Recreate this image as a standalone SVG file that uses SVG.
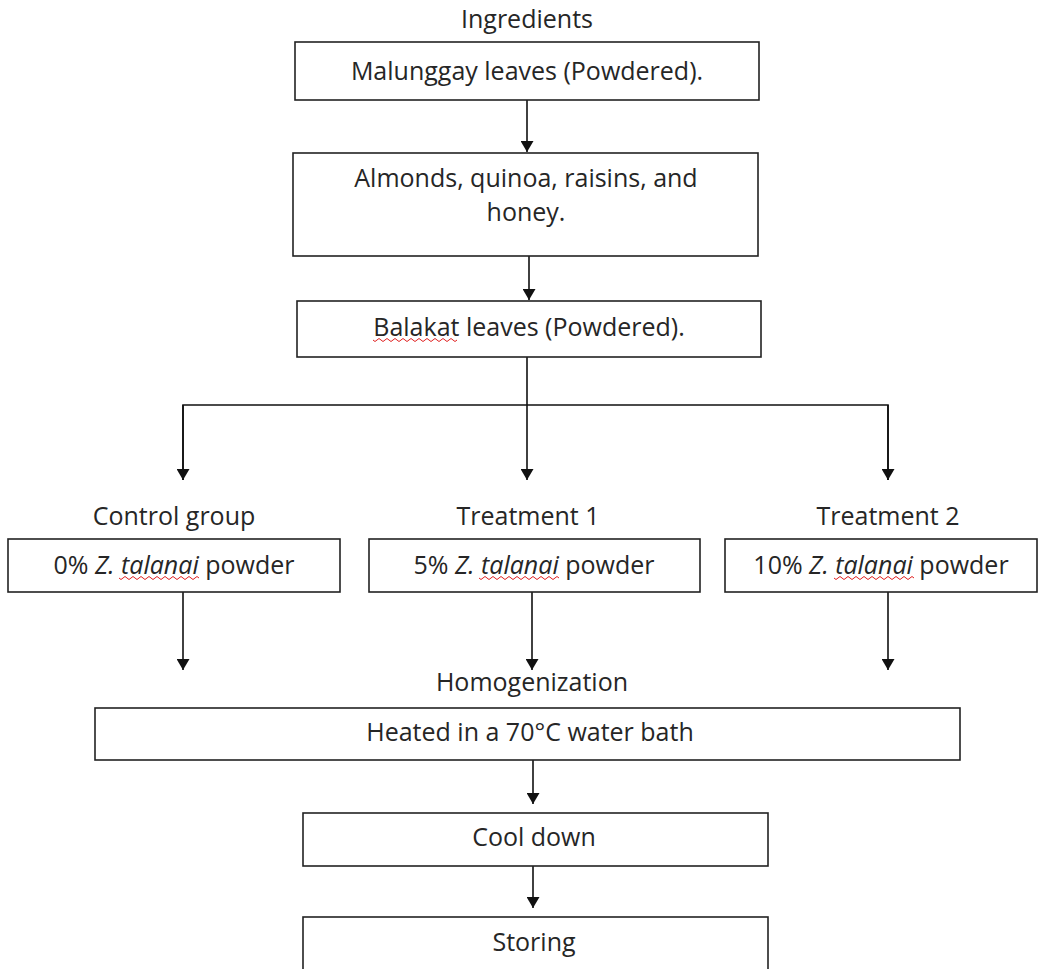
<svg xmlns="http://www.w3.org/2000/svg" width="1043" height="969" viewBox="0 0 1043 969">
<defs>
<style>
.box{fill:#fff;stroke:#222;stroke-width:1.6}
.t{font-family:"Open Sans","Liberation Sans",sans-serif;font-size:25px;fill:#262626;text-anchor:middle}
.ln{fill:none;stroke:#111;stroke-width:1.6}
.sp{fill:none;stroke:#e02020;stroke-width:1}
</style>
<marker id="ah" markerWidth="13" markerHeight="13" refX="11" refY="6.5" orient="auto" markerUnits="userSpaceOnUse">
<path d="M0,0 L11,6.5 L0,13 Z" fill="#111"/>
</marker>
</defs>
<rect width="1043" height="969" fill="#fff"/>
<g id="connectors">
<line class="ln" x1="527" y1="100" x2="527" y2="152" marker-end="url(#ah)"/>
<line class="ln" x1="529" y1="256" x2="529" y2="300" marker-end="url(#ah)"/>
<polyline class="ln" points="527,357 527,405"/>
<polyline class="ln" points="183,480 183,405 888,405 888,480"/>
<line class="ln" x1="183" y1="405" x2="183" y2="480" marker-end="url(#ah)"/>
<line class="ln" x1="527" y1="405" x2="527" y2="480" marker-end="url(#ah)"/>
<line class="ln" x1="888" y1="405" x2="888" y2="480" marker-end="url(#ah)"/>
<line class="ln" x1="183" y1="592" x2="183" y2="670" marker-end="url(#ah)"/>
<line class="ln" x1="532" y1="592" x2="532" y2="670" marker-end="url(#ah)"/>
<line class="ln" x1="888" y1="592" x2="888" y2="670" marker-end="url(#ah)"/>
<line class="ln" x1="533" y1="760" x2="533" y2="804" marker-end="url(#ah)"/>
<line class="ln" x1="533" y1="866" x2="533" y2="908" marker-end="url(#ah)"/>
</g>
<text class="t" x="527" y="28">Ingredients</text>
<g id="malunggay">
<rect class="box" x="295" y="42" width="464" height="58"/>
<text class="t" x="527" y="80">Malunggay leaves (Powdered).</text>
</g>
<g id="almonds">
<rect class="box" x="293" y="153" width="465" height="103"/>
<text class="t" x="526" y="187">Almonds, quinoa, raisins, and</text>
<text class="t" x="526" y="221">honey.</text>
</g>
<g id="balakat">
<rect class="box" x="297" y="301" width="464" height="56"/>
<text class="t" x="529" y="336">Balakat leaves (Powdered).</text>
<path class="sp" d="M373,340 q2,3 4,0 t4,0 t4,0 t4,0 t4,0 t4,0 t4,0 t4,0 t4,0 t4,0 t4,0 t4,0 t4,0 t4,0 t4,0 t4,0 t4,0 t4,0 t4,0 t4,0 t4,0"/>
</g>
<g id="control">
<text class="t" x="174" y="525">Control group</text>
<rect class="box" x="8" y="539" width="332" height="53"/>
<text class="t" x="174" y="574">0% <tspan font-style="italic">Z. talanai</tspan> powder</text>
<path class="sp" d="M119,578 q2,3 4,0 t4,0 t4,0 t4,0 t4,0 t4,0 t4,0 t4,0 t4,0 t4,0 t4,0 t4,0 t4,0 t4,0 t4,0 t4,0 t4,0 t4,0 t4,0 t4,0"/>
</g>
<g id="treatment1">
<text class="t" x="528" y="525">Treatment 1</text>
<rect class="box" x="369" y="539" width="331" height="53"/>
<text class="t" x="534" y="574">5% <tspan font-style="italic">Z. talanai</tspan> powder</text>
<path class="sp" d="M479,578 q2,3 4,0 t4,0 t4,0 t4,0 t4,0 t4,0 t4,0 t4,0 t4,0 t4,0 t4,0 t4,0 t4,0 t4,0 t4,0 t4,0 t4,0 t4,0 t4,0 t4,0"/>
</g>
<g id="treatment2">
<text class="t" x="888" y="525">Treatment 2</text>
<rect class="box" x="725" y="539" width="312" height="53"/>
<text class="t" x="881" y="574">10% <tspan font-style="italic">Z. talanai</tspan> powder</text>
<path class="sp" d="M834,578 q2,3 4,0 t4,0 t4,0 t4,0 t4,0 t4,0 t4,0 t4,0 t4,0 t4,0 t4,0 t4,0 t4,0 t4,0 t4,0 t4,0 t4,0 t4,0 t4,0 t4,0"/>
</g>
<g id="heated">
<text class="t" x="532" y="691">Homogenization</text>
<rect class="box" x="95" y="708" width="865" height="52"/>
<text class="t" x="530" y="741">Heated in a 70°C water bath</text>
</g>
<g id="cooldown">
<rect class="box" x="303" y="813" width="465" height="53"/>
<text class="t" x="534" y="846">Cool down</text>
</g>
<g id="storing">
<rect class="box" x="303" y="917" width="465" height="60"/>
<text class="t" x="534" y="951">Storing</text>
</g>
</svg>
